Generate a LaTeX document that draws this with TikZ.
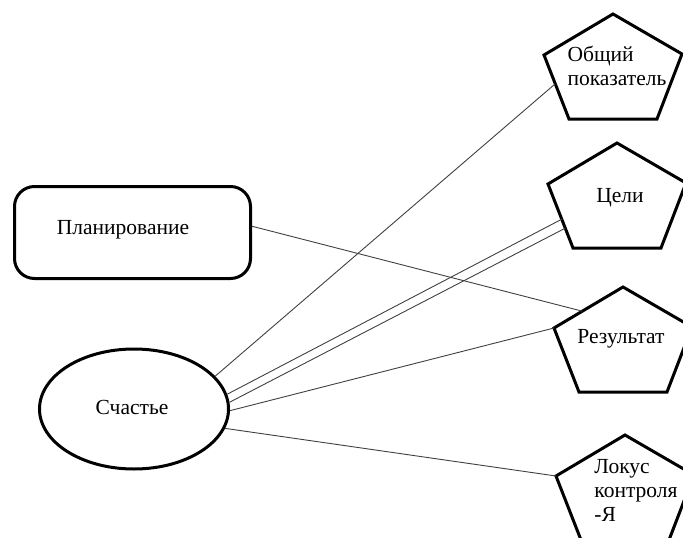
\documentclass[tikz,border=0pt]{standalone}
\usepackage{fontspec}
\setmainfont{Liberation Serif}
\usetikzlibrary{shapes.geometric, calc}

\begin{document}
\begin{tikzpicture}[x=1pt, y=-1pt, font=\fontsize{21.5}{24}\selectfont,
	outline/.style={line width=3pt, line join=miter},
	link/.style={line width=0.9pt, black!75}]
	\clip (0,0) rectangle (683,538);
	\node[outline, draw, rectangle, rounded corners=20pt, minimum width=236, minimum height=92] (plan) at (132.5,232.5) {};
	\node (plan-text) at (123,230) {Планирование};
	\node[outline, draw, ellipse, minimum width=189, minimum height=120] (happy) at (134,409) {};
	\node (happy-text) at (132,407) {Счастье};
	\foreach \name/\cx/\ty in {total/613/14, goals/617/143, result/623/287, locus/625/435} {
		\coordinate (\name-t) at (\cx,\ty); \coordinate (\name-l) at (\cx-69,\ty+41); \coordinate (\name-r) at (\cx+69,\ty+40);
		\coordinate (\name-bl) at (\cx-44,\ty+105); \coordinate (\name-br) at (\cx+44,\ty+105);
		\draw[outline] (\name-t) -- (\name-r) -- (\name-br) -- (\name-bl) -- (\name-l) -- cycle;
	}
	\node[align=left] (total-text) at (617,66) {Общий\\показатель};
	\node (goals-text) at (620,198) {Цели};
	\node (result-text) at (621,339) {Результат};
	\node[align=left] (locus-text) at (636,490) {Локус\\контроля\\-Я};
	\draw[link] (happy.22) -- ($(total-l)!0.45!(total-bl)$);
	\draw[link] (happy.9) -- ($(goals-l)!0.55!(goals-bl)$);
	\draw[link] (happy.4) -- ($(goals-l)!0.69!(goals-bl)$);
	\draw[link] (happy.-1) -- (result-l);
	\draw[link] (happy.-12) -- (locus-l);
	\draw[link] (plan.3) -- ($(result-t)!0.59!(result-l)$);
\end{tikzpicture}
\end{document}
